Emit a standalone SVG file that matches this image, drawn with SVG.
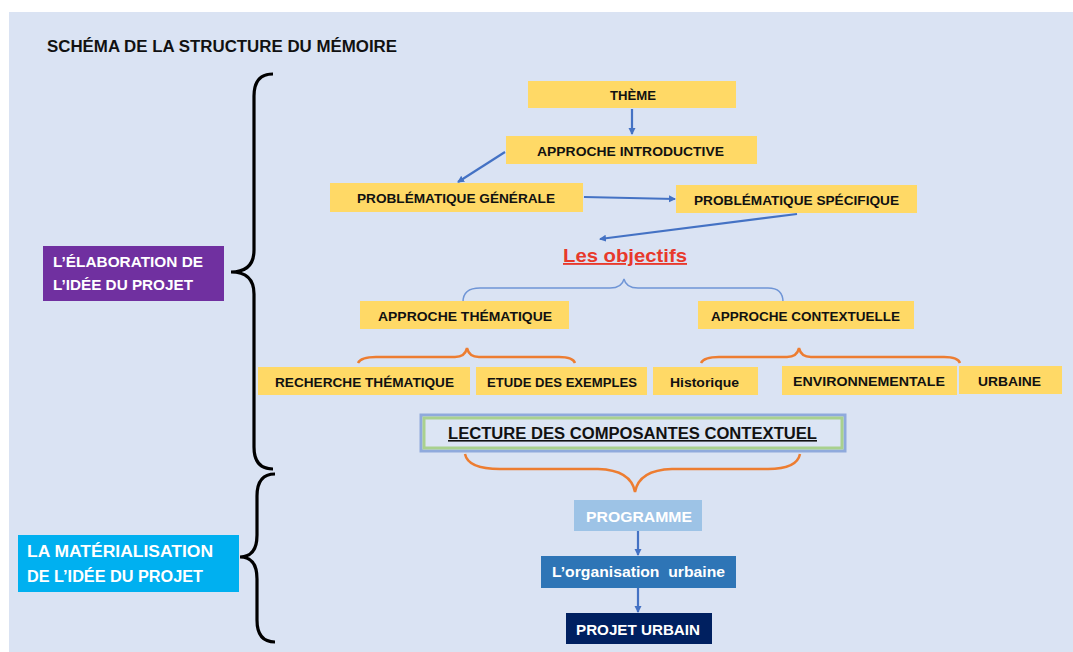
<svg xmlns="http://www.w3.org/2000/svg" width="1073" height="652" viewBox="0 0 1073 652">
<style>
.lbl{font-family:"Liberation Sans",Arial,sans-serif;font-weight:bold;font-size:12.5px;fill:#111}
.box{fill:#FFD966}
.wt{font-family:"Liberation Sans",Arial,sans-serif;font-weight:bold;fill:#fff}
.conn{stroke:#4472C4;stroke-width:2.2;fill:none}
.ob{stroke:#ED7D31;stroke-width:2.5;fill:none}
.bk{stroke:#000;stroke-width:3.2;fill:none}
</style>
<defs>
<marker id="ah" markerWidth="8" markerHeight="8" refX="6" refY="4" orient="auto" markerUnits="userSpaceOnUse">
<path d="M0,0.5 L7,4 L0,7.5 z" fill="#4472C4"/>
</marker>
</defs>
<rect x="0" y="0" width="1073" height="652" fill="#fff"/>
<rect x="9" y="12" width="1064" height="640" fill="#DAE3F3"/>
<text x="47" y="52" class="lbl" style="font-size:16px" textLength="350" lengthAdjust="spacingAndGlyphs">SCHÉMA DE LA STRUCTURE DU MÉMOIRE</text>

<g id="braces">
<path class="bk" d="M273,74 Q254,74 254,96 L254,250 Q254,272 231,272 Q254,272 254,294 L254,447 Q254,469 273,469"/>
<path class="bk" d="M275,474 Q257,474 257,496 L257,535 Q257,557 240,557 Q257,557 257,579 L257,620 Q257,642 275,642"/>
<path d="M463,302 Q463,288 480,288 L610,288 Q622,288 624,279 Q626,288 638,288 L768,288 Q783,288 783,302" stroke="#6F95D6" stroke-width="1.4" fill="none"/>
<path class="ob" d="M358,363 Q361,357 376,357 L455,357 Q465,357 467,348 Q469,357 479,357 L559,357 Q573,357 575,363"/>
<path class="ob" d="M701,363 Q704,357 719,357 L787,357 Q797,357 799,348 Q801,357 811,357 L944,357 Q958,357 960,363"/>
<path class="ob" d="M465,454 Q468,469 500,469 L598,469 Q631,470 635,492 Q639,470 672,469 L768,469 Q797,469 800,454"/>
</g>

<g id="connectors">
<line class="conn" x1="632" y1="109" x2="632" y2="134" marker-end="url(#ah)"/>
<line class="conn" x1="505" y1="152" x2="458" y2="182" marker-end="url(#ah)"/>
<line class="conn" x1="584" y1="197" x2="675" y2="199" marker-end="url(#ah)"/>
<line class="conn" x1="797" y1="214" x2="600" y2="239" marker-end="url(#ah)"/>
<line class="conn" x1="638" y1="531" x2="638" y2="555" marker-end="url(#ah)"/>
<line class="conn" x1="638" y1="588" x2="638" y2="612" marker-end="url(#ah)"/>
</g>

<g id="n-elab"><rect x="43" y="246" width="181" height="55" fill="#7030A0"/>
<text class="wt" x="53" y="267" font-size="14.5" textLength="150" lengthAdjust="spacingAndGlyphs">L’ÉLABORATION  DE</text>
<text class="wt" x="53" y="290" font-size="14.5" textLength="140" lengthAdjust="spacingAndGlyphs">L’IDÉE  DU PROJET</text></g>
<g id="n-mat"><rect x="18" y="535" width="221" height="57" fill="#00B0F0"/>
<text class="wt" x="27" y="557" font-size="16" textLength="186" lengthAdjust="spacingAndGlyphs">LA MATÉRIALISATION</text>
<text class="wt" x="27" y="582" font-size="16" textLength="176" lengthAdjust="spacingAndGlyphs">DE L’IDÉE DU PROJET</text></g>

<g id="n-theme"><rect class="box" x="528" y="81" width="208" height="27"/><text class="lbl" x="610" y="100" textLength="46" lengthAdjust="spacingAndGlyphs">THÈME</text></g>
<g id="n-intro"><rect class="box" x="506" y="136" width="251" height="28"/><text class="lbl" x="537" y="156" textLength="187" lengthAdjust="spacingAndGlyphs">APPROCHE INTRODUCTIVE</text></g>
<g id="n-pg"><rect class="box" x="330" y="183" width="253" height="29"/><text class="lbl" x="357" y="203" textLength="198" lengthAdjust="spacingAndGlyphs">PROBLÉMATIQUE GÉNÉRALE</text></g>
<g id="n-ps"><rect class="box" x="676" y="185" width="241" height="28"/><text class="lbl" x="694" y="205" textLength="205" lengthAdjust="spacingAndGlyphs">PROBLÉMATIQUE SPÉCIFIQUE</text></g>
<g id="n-obj"><text x="563" y="262" font-family="Liberation Sans, Arial, sans-serif" font-weight="bold" font-size="18.5" fill="#E8392B" text-decoration="underline" textLength="124" lengthAdjust="spacingAndGlyphs">Les objectifs</text></g>
<g id="n-at"><rect class="box" x="360" y="301" width="209" height="28"/><text class="lbl" x="378" y="321" textLength="174" lengthAdjust="spacingAndGlyphs">APPROCHE THÉMATIQUE</text></g>
<g id="n-ac"><rect class="box" x="698" y="301" width="216" height="28"/><text class="lbl" x="711" y="321" textLength="189" lengthAdjust="spacingAndGlyphs">APPROCHE CONTEXTUELLE</text></g>
<g id="n-rt"><rect class="box" x="258" y="367" width="212" height="28"/><text class="lbl" x="275" y="387" textLength="179" lengthAdjust="spacingAndGlyphs">RECHERCHE THÉMATIQUE</text></g>
<g id="n-ee"><rect class="box" x="476" y="367" width="171" height="28"/><text class="lbl" x="487" y="387" textLength="150" lengthAdjust="spacingAndGlyphs">ETUDE DES EXEMPLES</text></g>
<g id="n-hist"><rect class="box" x="653" y="367" width="105" height="28"/><text class="lbl" x="670" y="387" textLength="69" lengthAdjust="spacingAndGlyphs">Historique</text></g>
<g id="n-env"><rect class="box" x="782" y="366" width="175" height="29"/><text class="lbl" x="793" y="386" textLength="152" lengthAdjust="spacingAndGlyphs">ENVIRONNEMENTALE</text></g>
<g id="n-urb"><rect class="box" x="959" y="366" width="103" height="28"/><text class="lbl" x="978" y="386" textLength="63" lengthAdjust="spacingAndGlyphs">URBAINE</text></g>
<g id="n-lect"><rect x="421" y="415" width="424" height="36" fill="#DCE5F4" stroke="#8FAADC" stroke-width="3"/>
<rect x="424" y="418" width="418" height="30" fill="none" stroke="#A9D18E" stroke-width="3"/>
<text class="lbl" x="448" y="439" style="font-size:16px" text-decoration="underline" textLength="369" lengthAdjust="spacingAndGlyphs">LECTURE DES COMPOSANTES CONTEXTUEL</text></g>
<g id="n-prog"><rect x="574" y="500" width="128" height="31" fill="#9DC3E6"/><text class="wt" x="586" y="522" font-size="14.5" textLength="106" lengthAdjust="spacingAndGlyphs">PROGRAMME</text></g>
<g id="n-org"><rect x="541" y="556" width="195" height="32" fill="#2E75B6"/><text class="wt" x="552" y="577" font-size="14.5" textLength="173" lengthAdjust="spacingAndGlyphs">L’organisation&#160; urbaine</text></g>
<g id="n-pu"><rect x="566" y="613" width="146" height="31" fill="#002060"/><text class="wt" x="576" y="635" font-size="14.5" textLength="124" lengthAdjust="spacingAndGlyphs">PROJET URBAIN</text></g>
</svg>
